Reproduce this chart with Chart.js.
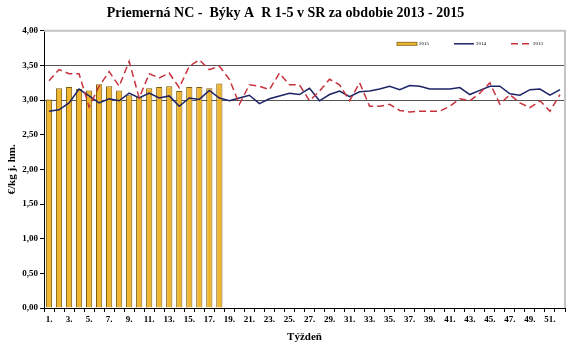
<!DOCTYPE html>
<html>
<head>
<meta charset="utf-8">
<script src="https://cdn.jsdelivr.net/npm/chart.js@4/dist/chart.umd.min.js"></script>
<style>
  html, body { margin: 0; padding: 0; background: #fff; }
  #wrap { width: 580px; height: 354px; }
</style>
</head>
<body>
<div id="wrap"><canvas id="chart" width="580" height="354"></canvas></div>
<script>
const weeks = Array.from({ length: 52 }, (_, i) => (i + 1) + '.');

const values2015 = [3.01, 3.17, 3.19, 3.16, 3.14, 3.23, 3.20, 3.14, 3.07, 3.05,
  3.17, 3.19, 3.20, 3.13, 3.19, 3.19, 3.17, 3.24];

const values2014 = [2.84, 2.86, 2.96, 3.16, 3.06, 2.96, 3.02, 2.99, 3.10, 3.03,
  3.10, 3.03, 3.06, 2.91, 3.03, 3.01, 3.14, 3.03, 2.99, 3.03,
  3.07, 2.95, 3.02, 3.06, 3.10, 3.08, 3.17, 2.99, 3.08, 3.13,
  3.05, 3.12, 3.13, 3.16, 3.20, 3.15, 3.21, 3.20, 3.16, 3.16,
  3.16, 3.18, 3.08, 3.14, 3.20, 3.20, 3.09, 3.07, 3.15, 3.16,
  3.07, 3.15];

const values2013 = [3.28, 3.44, 3.38, 3.38, 2.90, 3.20, 3.41, 3.20, 3.56, 3.03,
  3.38, 3.32, 3.39, 3.18, 3.49, 3.58, 3.44, 3.49, 3.30, 2.94,
  3.22, 3.20, 3.15, 3.39, 3.22, 3.22, 2.99, 3.13, 3.30, 3.22,
  2.99, 3.25, 2.91, 2.91, 2.94, 2.85, 2.83, 2.84, 2.84, 2.84,
  2.91, 3.02, 2.99, 3.10, 3.25, 2.94, 3.08, 2.96, 2.89, 2.99,
  2.84, 3.08];

const yTicks = [0, 0.5, 1, 1.5, 2, 2.5, 3, 3.5, 4];

const FONT = 'Liberation Serif';

// gray frame on top and right of the plot area
const plotFrame = {
  id: 'plotFrame',
  beforeDatasetsDraw(chart) {
    const { ctx, chartArea: a } = chart;
    ctx.save();
    ctx.strokeStyle = '#c4c4c4';
    ctx.lineWidth = 2;
    ctx.beginPath();
    ctx.moveTo(a.left, a.top);
    ctx.lineTo(a.right, a.top);
    ctx.lineTo(a.right, a.bottom);
    ctx.stroke();
    ctx.restore();
  }
};

// small legend inside the plot, top right, in 2015 / 2014 / 2013 order
const insideLegend = {
  id: 'insideLegend',
  afterDraw(chart) {
    const { ctx, chartArea: a } = chart;
    const y = a.top + 13;
    let x = a.right - 168;
    ctx.save();
    ctx.font = '5px "' + FONT + '"';
    ctx.textBaseline = 'middle';
    chart.data.datasets.forEach(ds => {
      if (ds.type === 'bar') {
        ctx.fillStyle = ds.backgroundColor;
        ctx.strokeStyle = ds.borderColor;
        ctx.lineWidth = 0.8;
        ctx.fillRect(x, y - 1.5, 20, 3);
        ctx.strokeRect(x, y - 1.5, 20, 3);
      } else {
        ctx.strokeStyle = ds.borderColor;
        ctx.lineWidth = ds.borderWidth;
        ctx.setLineDash(ds.borderDash || []);
        ctx.beginPath();
        ctx.moveTo(x, y);
        ctx.lineTo(x + 20, y);
        ctx.stroke();
        ctx.setLineDash([]);
      }
      ctx.fillStyle = '#000';
      ctx.fillText(ds.label, x + 22, y);
      x += 57;
    });
    ctx.restore();
  }
};

new Chart(document.getElementById('chart'), {
  type: 'bar',
  data: {
    labels: weeks,
    datasets: [
      {
        type: 'bar',
        label: '2015',
        data: values2015,
        backgroundColor: '#F0B630',
        borderColor: '#7d5e10',
        borderWidth: 1,
        barPercentage: 0.62,
        categoryPercentage: 1,
        order: 3
      },
      {
        type: 'line',
        label: '2014',
        data: values2014,
        borderColor: '#1c2466',
        backgroundColor: '#1c2466',
        borderWidth: 1.5,
        pointRadius: 0,
        tension: 0,
        order: 2
      },
      {
        type: 'line',
        label: '2013',
        data: values2013,
        borderColor: '#c8323c',
        backgroundColor: '#c8323c',
        borderWidth: 1.5,
        borderDash: [7, 4],
        pointRadius: 0,
        tension: 0,
        order: 1
      }
    ]
  },
  options: {
    responsive: false,
    animation: false,
    layout: { padding: { left: 6, right: 15, top: 3, bottom: 10 } },
    plugins: {
      title: {
        display: true,
        text: 'Priemerná NC -  Býky A  R 1-5 v SR za obdobie 2013 - 2015',
        color: '#000',
        font: { family: FONT, size: 14, weight: 'bold' },
        padding: { top: 2, bottom: 9 }
      },
      legend: { display: false },
      tooltip: { enabled: false }
    },
    scales: {
      x: {
        grid: { drawOnChartArea: false, tickColor: '#000', tickLength: 4 },
        border: { color: '#000' },
        ticks: {
          autoSkip: false,
          maxRotation: 0,
          color: '#000',
          font: { family: FONT, size: 9, weight: 'bold' },
          padding: 2,
          callback: (v, i) => (i % 2 === 0 ? weeks[i] : '')
        },
        title: {
          display: true,
          text: 'Týždeň',
          color: '#000',
          font: { family: FONT, size: 11, weight: 'bold' },
          padding: { top: 4, bottom: 0 }
        }
      },
      y: {
        min: 0,
        max: 4,
        afterBuildTicks: s => { s.ticks = yTicks.map(v => ({ value: v })); },
        afterFit: s => { s.width = 38; },
        grid: {
          color: c => {
            const v = c.tick && c.tick.value;
            if (v === 3 || v === 3.5) return '#555';
            return 'rgba(0,0,0,0)';
          },
          tickColor: '#000',
          tickLength: 4
        },
        border: { color: '#000' },
        ticks: {
          color: '#000',
          font: { family: FONT, size: 9, weight: 'bold' },
          padding: 2,
          callback: v => v.toFixed(2).replace('.', ',')
        },
        title: {
          display: true,
          text: '€/kg j. hm.',
          color: '#000',
          font: { family: FONT, size: 11, weight: 'bold' },
          padding: { top: 0, bottom: 2 }
        }
      }
    }
  },
  plugins: [plotFrame, insideLegend]
});
</script>
</body>
</html>
